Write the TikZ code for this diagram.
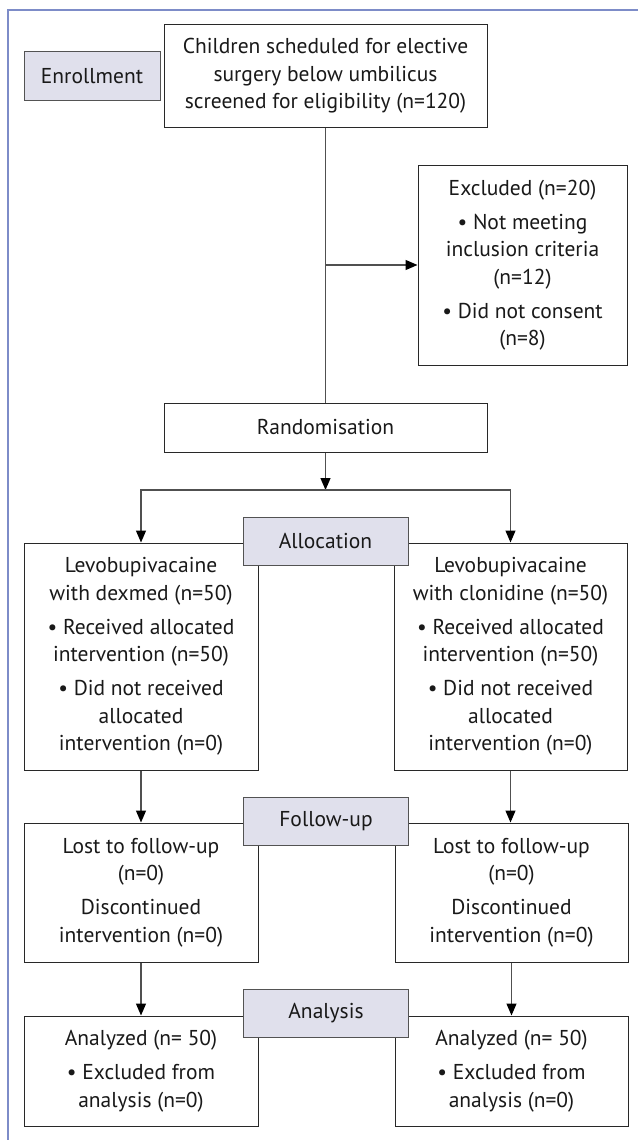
\documentclass[tikz,border=0pt]{standalone}
\usepackage{fontspec}
\setmainfont{PT Sans}
\usetikzlibrary{arrows.meta}
\definecolor{frameblue}{RGB}{125,140,200}
\definecolor{labelfill}{RGB}{224,224,236}
\definecolor{linegray}{RGB}{80,80,80}
\definecolor{boxline}{RGB}{40,40,40}
\tikzset{
  txt/.style={font=\fontsize{21.5}{27.5}\selectfont, text=black!90},
  box/.style={txt, draw=boxline, line width=1pt, fill=white, align=center, inner sep=0pt},
  stagelabel/.style={txt, draw=boxline!80, line width=1pt, fill=labelfill, align=center, inner sep=0pt},
  conn/.style={draw=linegray, line width=1.2pt},
  arr/.style={conn, -{Triangle[length=12pt,width=10pt,color=black]}},
  framecol/.style={draw=frameblue, line width=1.3pt}
}
\begin{document}
\begin{tikzpicture}[x=1pt,y=-1pt]
\useasboundingbox (0,0) rectangle (638,1140);
\fill[white] (0,0) rectangle (638,1140);
% outer frame (top and left visible)
\draw[framecol] (8,1140) -- (8,10) -- (638,10);

% boxes
\node[box, minimum width=323pt, minimum height=102pt] (screen) at (325.5,76)
  {Children scheduled for elective\\ surgery below umbilicus\\ screened for eligibility (n=120)};
\node[stagelabel, minimum width=136pt, minimum height=48pt] (enroll) at (92,76) {Enrollment};
\node[box, minimum width=209pt, minimum height=200pt] (excl) at (522.5,265)
  {Excluded (n=20)\\[6.5pt] • Not meeting\\ inclusion criteria\\ (n=12)\\[6.5pt] • Did not consent\\ (n=8)};
\node[box, minimum width=323pt, minimum height=49pt] (rand) at (325.5,427.5) {Randomisation};

\node[box, minimum width=234pt, minimum height=227pt] (L1) at (141,656.5)
  {Levobupivacaine\\ with dexmed (n=50)\\[6.5pt] • Received allocated\\ intervention (n=50)\\[6.5pt] • Did not received\\ allocated\\ intervention (n=0)};
\node[box, minimum width=233pt, minimum height=227pt] (R1) at (510.5,656.5)
  {Levobupivacaine\\ with clonidine (n=50)\\[6.5pt] • Received allocated\\ intervention (n=50)\\[6.5pt] • Did not received\\ allocated\\ intervention (n=0)};

\node[box, minimum width=234pt, minimum height=139pt] (L2) at (141,892.5)
  {Lost to follow-up\\ (n=0)\\[6.5pt] Discontinued\\ intervention (n=0)};
\node[box, minimum width=233pt, minimum height=139pt] (R2) at (511.5,892.5)
  {Lost to follow-up\\ (n=0)\\[6.5pt] Discontinued\\ intervention (n=0)};

\node[box, minimum width=234pt, minimum height=110pt] (L3) at (141,1071)
  {Analyzed (n= 50)\\[6.5pt] • Excluded from\\ analysis (n=0)};
\node[box, minimum width=233pt, minimum height=110pt] (R3) at (511.5,1071)
  {Analyzed (n= 50)\\[6.5pt] • Excluded from\\ analysis (n=0)};

% stage labels drawn over boxes
\node[stagelabel, minimum width=165pt, minimum height=48pt] (alloc) at (325.5,541) {Allocation};
\node[stagelabel, minimum width=165pt, minimum height=48pt] (follow) at (326,821) {Follow-up};
\node[stagelabel, minimum width=165pt, minimum height=48pt] (anal) at (326,1013) {Analysis};

% connectors
\coordinate (branch) at (screen.south |- excl.west);
\draw[conn] (screen.south) -- (rand.north);
\draw[arr] (branch) -- (excl.west);
\coordinate (split) at (325.5,490);
\draw[arr] (rand.south) -- (split);
\draw[arr] (split) -| (L1.north);
\draw[arr] (split) -| (R1.north);
\draw[arr] (L1.south) -- (L2.north -| L1.south);
\draw[arr] (R1.south) -- (R2.north -| R1.south);
\draw[arr] (L2.south) -- (L3.north);
\draw[arr] (R2.south) -- (R3.north);
\end{tikzpicture}
\end{document}
